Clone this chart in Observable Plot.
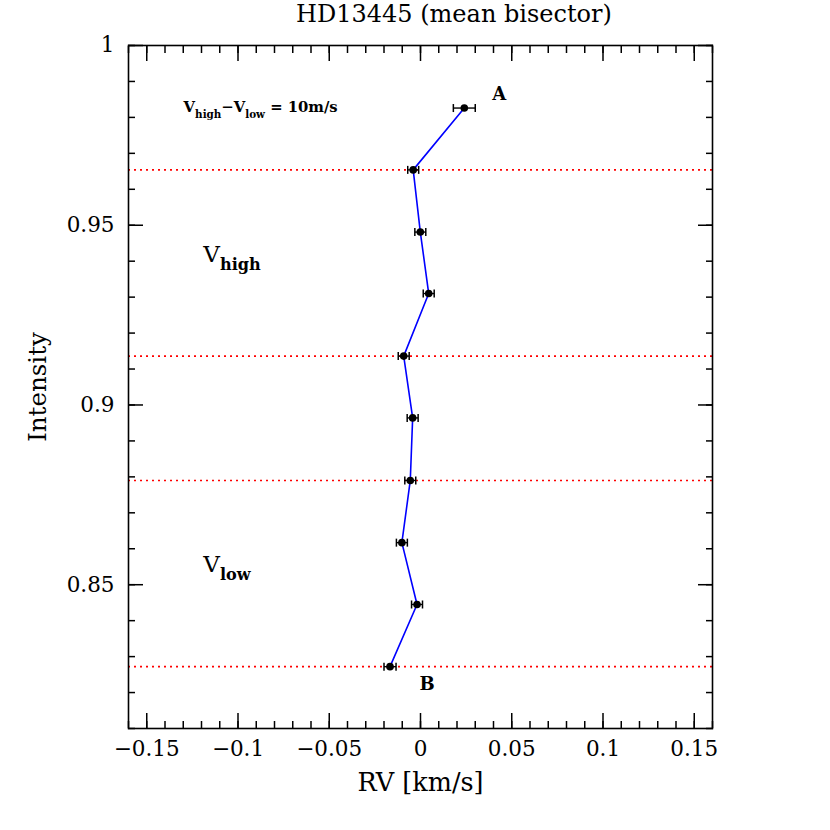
<!DOCTYPE html>
<html><head><meta charset="utf-8">
<script src="https://cdn.jsdelivr.net/npm/d3@7"></script>
<script src="https://cdn.jsdelivr.net/npm/@observablehq/plot@0.6"></script>
<style>
body{margin:0;background:#fff;}
#wrap{position:relative;width:830px;height:830px;background:#fff;}
#title{position:absolute;top:0;left:454px;transform:translateX(-50%);font-family:"DejaVu Serif";font-size:24px;white-space:nowrap;line-height:28px;color:#000;}
#chart{position:absolute;top:28px;left:0;}
</style></head><body>
<div id="wrap"><div id="title"></div><div id="chart"></div></div>
<script>
// ---- data ----
const titleText = "HD13445 (mean bisector)";
const xLabel = "RV [km/s]";
const yLabel = "Intensity";
const rv        = [0.0240, -0.0040, -0.0001, 0.0045, -0.0092, -0.0043, -0.0056, -0.0102, -0.0019, -0.0167];
const intensity = [0.9826, 0.9654, 0.9481, 0.9310, 0.9136, 0.8964, 0.8790, 0.8617, 0.8445, 0.8272];
const rvErr     = [0.0060, 0.0030, 0.0030, 0.0030, 0.0030, 0.0030, 0.0030, 0.0030, 0.0030, 0.0033];
const levelLines = [0.9654, 0.9136, 0.8790, 0.8272];
const xDomain = [-0.16, 0.16];
const yDomain = [0.81, 1.0];
const xTicks = [-0.15, -0.1, -0.05, 0, 0.05, 0.1, 0.15];
const xTickLabels = ["\u22120.15", "\u22120.1", "\u22120.05", "0", "0.05", "0.1", "0.15"];
const yTicks = [0.85, 0.9, 0.95, 1];
const yTickLabels = ["0.85", "0.9", "0.95", "1"];
const pointLabels = ["A", "B"];
const pointLabelX = [0.0431, 0.0036];
const pointLabelY = [0.9864, 0.8222];
const noteText = ["V_{high}\u2212V_{low} = 10m/s"];
const noteX = [-0.1298];
const noteY = [0.9827];
const zoneText = ["V_{high}", "V_{low}"];
const zoneX = [-0.119, -0.119];
const zoneY = [0.9418, 0.8555];

// ---- build ----
document.getElementById("title").textContent = titleText;
const points = rv.map((x, i) => ({rv: x, intensity: intensity[i], err: rvErr[i]}));
const xMinor = d3.range(-16, 17).map(i => i / 100);
const yMinor = d3.range(81, 101).map(i => i / 100);
const xLab = new Map(xTicks.map((t, i) => [t, xTickLabels[i]]));
const yLab = new Map(yTicks.map((t, i) => [t, yTickLabels[i]]));
const pl = pointLabels.map((t, i) => ({t, x: pointLabelX[i], y: pointLabelY[i]}));
const notes = noteText.map((t, i) => ({t, x: noteX[i], y: noteY[i]}));
const zones = zoneText.map((t, i) => ({t, x: zoneX[i], y: zoneY[i]}));

const vbar = {draw(ctx, size) { const h = Math.sqrt(size / Math.PI); ctx.moveTo(0, -h); ctx.lineTo(0, h); }};
const empty = () => "";

const chart = Plot.plot({
  width: 830,
  height: 802,
  marginTop: 17,
  marginBottom: 102,
  marginLeft: 128,
  marginRight: 118,
  style: {fontFamily: "DejaVu Serif", fontSize: "21.5px", background: "#fff", color: "#000"},
  x: {domain: xDomain},
  y: {domain: yDomain},
  marks: [
    Plot.ruleY(levelLines, {stroke: "#ff0000", strokeWidth: 1.6, strokeDasharray: "2,4"}),
    Plot.line(points, {x: "rv", y: "intensity", stroke: "#0000ff", strokeWidth: 1.6}),
    Plot.link(points, {x1: d => d.rv - d.err, x2: d => d.rv + d.err, y1: "intensity", y2: "intensity", stroke: "black", strokeWidth: 1.4}),
    Plot.dot(points, {x: d => d.rv - d.err, y: "intensity", symbol: vbar, r: 4, stroke: "black", strokeWidth: 1.5}),
    Plot.dot(points, {x: d => d.rv + d.err, y: "intensity", symbol: vbar, r: 4, stroke: "black", strokeWidth: 1.5}),
    Plot.dot(points, {x: "rv", y: "intensity", r: 3.8, fill: "black"}),
    Plot.frame({stroke: "black", strokeWidth: 1.6}),
    // tick labels
    Plot.axisX(xTicks, {anchor: "bottom", tickSize: 0, tickPadding: 12, tickFormat: d => xLab.get(d), label: null}),
    Plot.axisY(yTicks, {anchor: "left", tickSize: 0, tickPadding: 14, tickFormat: d => yLab.get(d), label: null}),
    // inward ticks, all four sides
    Plot.axisX(xTicks, {anchor: "bottom", tickSize: -15, tickFormat: empty, label: null, strokeWidth: 1.5}),
    Plot.axisX(xMinor, {anchor: "bottom", tickSize: -7, tickFormat: empty, label: null, strokeWidth: 1.5}),
    Plot.axisX(xTicks, {anchor: "top", tickSize: -15, tickFormat: empty, label: null, strokeWidth: 1.5}),
    Plot.axisX(xMinor, {anchor: "top", tickSize: -7, tickFormat: empty, label: null, strokeWidth: 1.5}),
    Plot.axisY(yTicks, {anchor: "left", tickSize: -15, tickFormat: empty, label: null, strokeWidth: 1.5}),
    Plot.axisY(yMinor, {anchor: "left", tickSize: -7, tickFormat: empty, label: null, strokeWidth: 1.5}),
    Plot.axisY(yTicks, {anchor: "right", tickSize: -15, tickFormat: empty, label: null, strokeWidth: 1.5}),
    Plot.axisY(yMinor, {anchor: "right", tickSize: -7, tickFormat: empty, label: null, strokeWidth: 1.5}),
    // axis titles
    Plot.text([xLabel], {frameAnchor: "bottom", dy: 54, text: d => d, fontSize: 25.5, textAnchor: "middle", lineAnchor: "middle"}),
    Plot.text([yLabel], {frameAnchor: "left", dx: -90, rotate: -90, text: d => d, fontSize: 24.5, textAnchor: "middle", lineAnchor: "middle"}),
    // annotations
    Plot.text(pl, {x: "x", y: "y", text: "t", fontSize: 18, fontWeight: "bold"}),
    Plot.text(notes, {x: "x", y: "y", text: "t", fontSize: 14.8, fontWeight: "bold", textAnchor: "start"}),
    Plot.text(zones, {x: "x", y: "y", text: "t", fontSize: 23, textAnchor: "start"})
  ]
});
document.getElementById("chart").appendChild(chart);

// subscripts: "X_{sub}"
(function richify(root) {
  const ns = "http://www.w3.org/2000/svg";
  root.querySelectorAll("text").forEach(t => {
    const s = t.textContent;
    if (!s.includes("_{")) return;
    const fs = parseFloat(getComputedStyle(t).fontSize);
    const shift = fs * 0.35;
    t.textContent = "";
    const re = /_\{([^}]*)\}/g;
    let last = 0, m, down = false;
    const add = (str, sub) => {
      const ts = document.createElementNS(ns, "tspan");
      ts.textContent = str;
      if (sub) { ts.setAttribute("font-size", fs * 0.7); ts.setAttribute("font-weight", "bold"); ts.setAttribute("dy", shift); down = true; }
      else if (down) { ts.setAttribute("dy", -shift); down = false; }
      t.appendChild(ts);
    };
    while ((m = re.exec(s))) {
      if (m.index > last) add(s.slice(last, m.index), false);
      add(m[1], true);
      last = re.lastIndex;
    }
    if (last < s.length) add(s.slice(last), false);
  });
})(chart);
</script>
</body></html>
